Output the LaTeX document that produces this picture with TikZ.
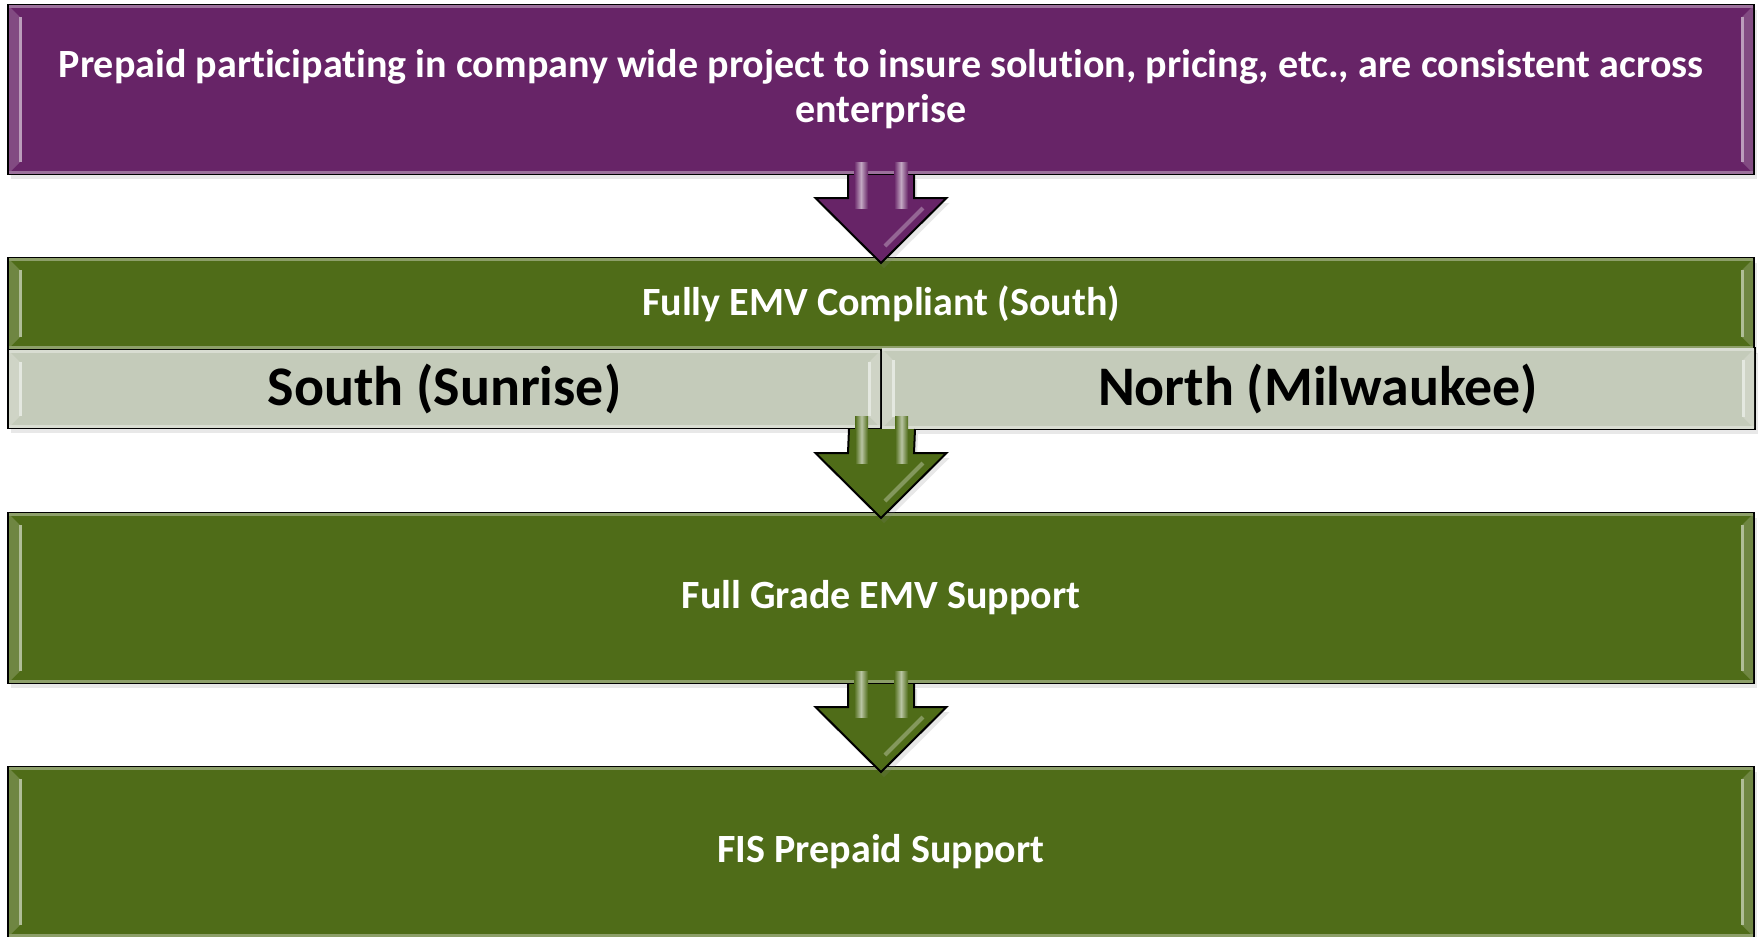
\documentclass[tikz,border=0pt]{standalone}
\usepackage{fontspec}
\setmainfont{Carlito}[Ligatures=NoCommon]
\usetikzlibrary{calc,shadows}

\definecolor{plum}{RGB}{103,36,103}
\definecolor{moss}{RGB}{79,108,24}
\definecolor{sage}{RGB}{196,203,186}

\tikzset{
  stage/.style={draw=black, line width=0.2mm, fill=#1, minimum width=174.6mm,
    inner sep=0pt, align=center, text=white,
    font=\bfseries\fontsize{11.4}{12.8}\selectfont,
    drop shadow={opacity=0.18, shadow xshift=0.3mm, shadow yshift=-0.5mm}},
  site/.style={stage=sage, text=black, font=\bfseries\fontsize{15.9}{18}\selectfont},
  flow/.style={fill=#1, draw=black, line width=0.2mm, line join=miter,
    drop shadow={opacity=0.18, shadow xshift=0.3mm, shadow yshift=-0.5mm}},
}

% bevelled edges on a box
\newcommand\Bevel[2]{%
  \fill[#2!82!white] ($(#1.north west)+(2,2)$) -- ($(#1.north west)+(13,13)$)
    -- ($(#1.south west)+(13,-13)$) -- ($(#1.south west)+(2,-2)$) -- cycle;
  \fill[#2!82!white] ($(#1.north east)+(-2,2)$) -- ($(#1.north east)+(-13,13)$)
    -- ($(#1.south east)+(-13,-13)$) -- ($(#1.south east)+(-2,-2)$) -- cycle;
  \draw[#2!45!white, line width=0.3mm] ($(#1.north west)+(13,13)$) -- ($(#1.south west)+(13,-13)$);
  \draw[#2!45!white, line width=0.3mm] ($(#1.north east)+(-13,13)$) -- ($(#1.south east)+(-13,-13)$);
  \draw[#2!65!white, line width=0.25mm] ($(#1.north west)+(2,2.5)$) -- ($(#1.north east)+(-2,2.5)$);
  \draw[#2!65!white, line width=0.25mm] ($(#1.south west)+(2,-2.5)$) -- ($(#1.south east)+(-2,-2.5)$);
}

% block arrow from the bottom of one box into the next
\newcommand\BlockArrow[3]{%
  \coordinate (tip) at ($(#2)+(0,6)$);
  \coordinate (neck) at ($(tip)+(0,-65)$);
  \filldraw[flow=#3] ($(#1)+(-33,0)$) -- ($(neck)+(-33,0)$) -- ($(neck)+(-65.5,0)$)
    -- (tip) -- ($(neck)+(65.5,0)$) -- ($(neck)+(33,0)$) -- ($(#1)+(33,0)$);
  % shine on the shaft
  \fill[left color=#3, right color=#3, middle color=#3!40!white] ($(#1)+(-27,-13)$) rectangle ($(neck)+(-13,10)$);
  \fill[left color=#3, right color=#3, middle color=#3!40!white] ($(#1)+(13,-13)$) rectangle ($(neck)+(27,10)$);
  \draw[white, opacity=0.3, line width=0.4mm] ($(neck)+(42,10)$) -- ($(tip)+(4,-17)$);
}

\begin{document}
\begin{tikzpicture}[x=0.1mm, y=-0.1mm]
\useasboundingbox (0,0) rectangle (1762,936);

\node[stage=plum, minimum height=16.9mm] (goal) at (881,89.5)
  {Prepaid participating in company wide project to insure solution, pricing, etc., are consistent across\\enterprise};
\node[stage=moss, minimum height=9.1mm] (emv) at (881,303.5) {Fully EMV Compliant (South)};
\node[site, minimum width=87.3mm, minimum height=7.8mm] (south) at (444.5,389) {South (Sunrise)};
\node[site, minimum width=87.4mm, minimum height=8.1mm] (north) at (1318,388.5) {North (Milwaukee)};
\node[stage=moss, minimum height=17mm] (grade) at (881,598) {Full Grade EMV Support};
\node[stage=moss, minimum height=17mm] (fis) at (881,852) {FIS Prepaid Support};

\foreach \n/\c in {goal/plum, emv/moss, south/sage, north/sage, grade/moss, fis/moss}
  {\Bevel{\n}{\c}}

\BlockArrow{goal.south}{emv.north}{plum}
\BlockArrow{south.south east}{grade.north}{moss}
\BlockArrow{grade.south}{fis.north}{moss}

\end{tikzpicture}
\end{document}
